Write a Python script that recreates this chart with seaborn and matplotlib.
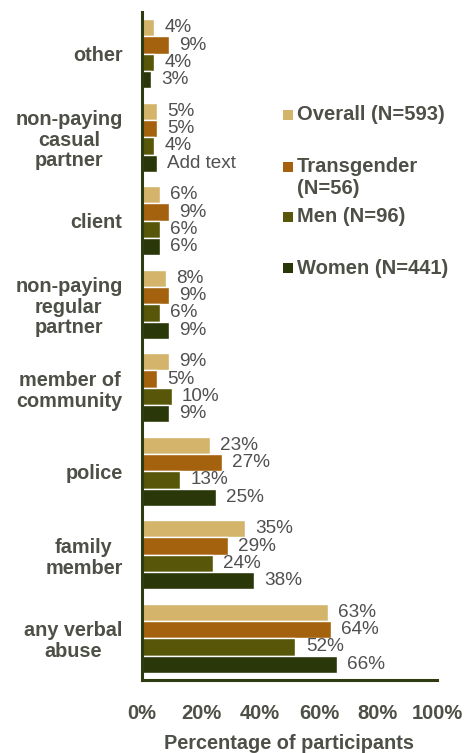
import matplotlib
matplotlib.use("Agg")
import matplotlib.pyplot as plt
from matplotlib.patches import Rectangle
import seaborn as sns
import pandas as pd

categories = ["other", "non-paying\ncasual\npartner", "client",
              "non-paying\nregular\npartner", "member of\ncommunity",
              "police", "family\nmember", "any verbal\nabuse"]
groups = ["Overall (N=593)", "Transgender (N=56)", "Men (N=96)", "Women (N=441)"]
overall = [4, 5, 6, 8, 9, 23, 35, 63]
transgender = [9, 5, 9, 9, 5, 27, 29, 64]
men = [4, 4, 6, 6, 10, 13, 24, 52]
women = [3, 5, 6, 9, 9, 25, 38, 66]
# the women / casual partner bar carries a placeholder text instead of a value
women_labels = ["3%", "Add text", "6%", "9%", "9%", "25%", "38%", "66%"]
xticks = [0, 20, 40, 60, 80, 100]
colors = ["#D3B46A", "#A5620E", "#575609", "#2A3708"]

rows = []
for g, vals in zip(groups, [overall, transgender, men, women]):
    for c, v in zip(categories, vals):
        rows.append({"category": c, "group": g, "value": v})
df = pd.DataFrame(rows)

sns.set_style("white")
plt.rcParams["font.family"] = ["Liberation Sans", "DejaVu Sans"]

W, H = 465, 753
fig = plt.figure(figsize=(W / 100, H / 100), dpi=100)
ax = fig.add_axes([142 / W, 1 - 680 / H, 295 / W, 668 / H])

sns.barplot(data=df, y="category", x="value", hue="group", order=categories,
            hue_order=groups, palette=colors, orient="h", width=0.83,
            saturation=1, legend=False, ax=ax)

text_col = "#505050"
label_sets = [[f"{v}%" for v in overall], [f"{v}%" for v in transgender],
              [f"{v}%" for v in men], women_labels]
for cont, labs in zip(ax.containers, label_sets):
    ax.bar_label(cont, labels=labs, padding=7.5, fontsize=13.6,
                 color=text_col)

axis_col = "#2F3B10"
dark_text = "#4D5046"
ax.set_xlim(0, 100)
ax.set_ylim(len(categories) - 0.5, -0.5)
ax.set_xticks(xticks)
ax.set_xticklabels([f"{t}%" for t in xticks], fontsize=14.5, fontweight="bold",
                   color=dark_text)
ax.tick_params(axis="x", direction="out", length=3.5, width=2,
               color=axis_col, pad=14)
ax.set_yticks(range(len(categories)))
ax.set_yticklabels(categories, fontsize=14.3, fontweight="bold",
                   color=dark_text, multialignment="center", linespacing=1.12)
ax.tick_params(axis="y", which="major", length=0, pad=14)
ax.set_yticks([i - 0.5 for i in range(len(categories) + 1)], minor=True)
ax.tick_params(axis="y", which="minor", direction="out", length=6, width=2,
               color=axis_col)

ax.set_ylabel("")
ax.set_xlabel("Percentage of participants", fontsize=14.3, fontweight="bold",
              color=dark_text, labelpad=8)

for side in ["top", "right"]:
    ax.spines[side].set_visible(False)
for side in ["left", "bottom"]:
    ax.spines[side].set_color(axis_col)
    ax.spines[side].set_linewidth(2.2)

# legend entries drawn as square swatches with bold text
legend_items = [
    (colors[0], ["Overall (N=593)"], 115),
    (colors[1], ["Transgender", "(N=56)"], 167),
    (colors[2], ["Men (N=96)"], 217),
    (colors[3], ["Women (N=441)"], 268),
]
for col, lines, yc in legend_items:
    fig.patches.append(Rectangle((283 / W, 1 - (yc + 5) / H), 10 / W, 10 / H,
                                 transform=fig.transFigure, facecolor=col,
                                 edgecolor="none"))
    for k, line in enumerate(lines):
        fig.text(297 / W, 1 - (yc + 22 * k) / H, line, fontsize=14.5,
                 fontweight="bold", color=dark_text, va="center", ha="left")

fig.savefig("out.png", dpi=100)
